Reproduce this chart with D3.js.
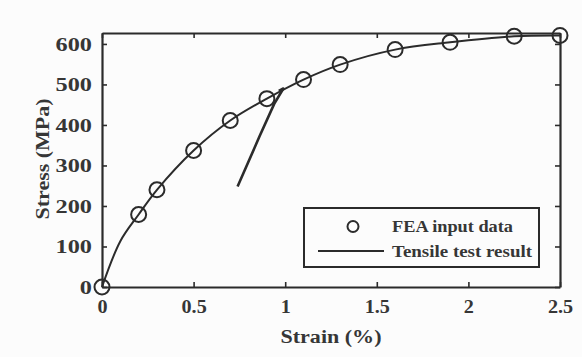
<!DOCTYPE html>
<html>
<head>
  <meta charset="utf-8">
  <script src="https://d3js.org/d3.v7.min.js"></script>
  <style>
    body { margin: 0; background: #fcfcfc; }
    text { font-family: "Liberation Serif", serif; font-weight: bold; fill: #363636; }
  </style>
</head>
<body>
<script>
  // FEA input points (circles)
  var feaStrain = [0, 0.2, 0.3, 0.5, 0.7, 0.9, 1.1, 1.3, 1.6, 1.9, 2.25, 2.5];
  var feaStress = [0, 179, 240, 337, 411, 465, 512, 549, 586, 604, 619, 621];

  // tensile test curve
  var testStrain = [0, 0.1, 0.2, 0.3, 0.5, 0.7, 0.9, 1.1, 1.3, 1.6, 1.9, 2.25, 2.5];
  var testStress = [0, 113, 179, 240, 337, 411, 465, 512, 549, 586, 604, 619, 621];

  // unloading spike from the test record
  var spikeStrain = [0.74, 0.86, 0.94, 0.99, 0.965];
  var spikeStress = [248, 372, 452, 490, 484];

  var xTicks = [0, 0.5, 1, 1.5, 2, 2.5];
  var yTicks = [0, 100, 200, 300, 400, 500, 600];

  var W = 582, H = 357;
  var m = { l: 102, r: 560, t: 33, b: 287 };
  var ink = "#2b2b2b";

  var svg = d3.select("body").append("svg")
    .attr("width", W).attr("height", H);

  var x = d3.scaleLinear().domain([0, 2.5]).range([m.l, m.r]);
  var y = d3.scaleLinear().domain([0, 627]).range([m.b, m.t]);

  // widen glyphs a bit, the original font is broader than Liberation Serif
  function stretch(sel, k) {
    sel.each(function() {
      var w = this.getComputedTextLength();
      d3.select(this).attr("textLength", w * k).attr("lengthAdjust", "spacingAndGlyphs");
    });
  }

  // axes (ticks inward, mirrored on top/right)
  var gx = svg.append("g").attr("transform", "translate(0," + m.b + ")")
    .call(d3.axisBottom(x).tickValues(xTicks).tickSizeInner(-5).tickSizeOuter(0).tickPadding(13)
      .tickFormat(function(d) { return d; }));
  var gy = svg.append("g").attr("transform", "translate(" + m.l + ",0)")
    .call(d3.axisLeft(y).tickValues(yTicks).tickSizeInner(-5).tickSizeOuter(0).tickPadding(10));
  var gt = svg.append("g").attr("transform", "translate(0," + m.t + ")")
    .call(d3.axisTop(x).tickValues(xTicks).tickSizeInner(-5).tickSizeOuter(0).tickFormat(""));
  var gr = svg.append("g").attr("transform", "translate(" + m.r + ",0)")
    .call(d3.axisRight(y).tickValues(yTicks).tickSizeInner(-5).tickSizeOuter(0).tickFormat(""));

  [gx, gy, gt, gr].forEach(function(g) {
    g.select(".domain").attr("stroke", ink).attr("stroke-width", 2.2);
    g.selectAll(".tick line").attr("stroke", ink).attr("stroke-width", 1.6);
    g.selectAll(".tick text").style("font-size", "18px").attr("fill", "#363636")
      .style("font-family", "Liberation Serif, serif").style("font-weight", "bold");
  });
  gy.selectAll(".tick text").attr("dy", "0.36em");
  stretch(gx.selectAll(".tick text"), 1.12);
  stretch(gy.selectAll(".tick text"), 1.35);

  // axis titles
  svg.append("text").attr("x", 331).attr("y", 343).attr("text-anchor", "middle")
    .style("font-size", "18px").text("Strain (%)")
    .attr("textLength", 101).attr("lengthAdjust", "spacingAndGlyphs");
  svg.append("text").attr("transform", "translate(49,159) rotate(-90)").attr("text-anchor", "middle")
    .style("font-size", "18px").text("Stress (MPa)")
    .attr("textLength", 121).attr("lengthAdjust", "spacingAndGlyphs");

  // test curve
  var testData = testStrain.map(function(d, i) { return [d, testStress[i]]; });
  var line = d3.line().x(function(d) { return x(d[0]); }).y(function(d) { return y(d[1]); })
    .curve(d3.curveCatmullRom.alpha(0.5));
  svg.append("path").datum(testData).attr("d", line)
    .attr("fill", "none").attr("stroke", ink).attr("stroke-width", 2);

  var spikeData = spikeStrain.map(function(d, i) { return [d, spikeStress[i]]; });
  svg.append("path").datum(spikeData)
    .attr("d", d3.line().x(function(d) { return x(d[0]); }).y(function(d) { return y(d[1]); }).curve(d3.curveLinear))
    .attr("fill", "none").attr("stroke", ink).attr("stroke-width", 2.6).attr("stroke-linejoin", "round");

  // FEA circles
  svg.selectAll("circle.fea").data(feaStrain).enter().append("circle")
    .attr("class", "fea")
    .attr("cx", function(d) { return x(d); })
    .attr("cy", function(d, i) { return y(feaStress[i]); })
    .attr("r", 7.5)
    .attr("fill", "none").attr("stroke", ink).attr("stroke-width", 2);

  // legend
  var lg = svg.append("g");
  lg.append("rect").attr("x", 304).attr("y", 208).attr("width", 235).attr("height", 59)
    .attr("fill", "#fcfcfc").attr("stroke", ink).attr("stroke-width", 2);
  lg.append("circle").attr("cx", 353).attr("cy", 226.5).attr("r", 5.5)
    .attr("fill", "none").attr("stroke", ink).attr("stroke-width", 2);
  lg.append("line").attr("x1", 318).attr("x2", 384).attr("y1", 251).attr("y2", 251)
    .attr("stroke", ink).attr("stroke-width", 2);
  lg.append("text").attr("x", 392).attr("y", 232).style("font-size", "17px").text("FEA input data")
    .attr("textLength", 121).attr("lengthAdjust", "spacingAndGlyphs");
  lg.append("text").attr("x", 392).attr("y", 257).style("font-size", "17px").text("Tensile test result")
    .attr("textLength", 140).attr("lengthAdjust", "spacingAndGlyphs");
</script>
</body>
</html>
